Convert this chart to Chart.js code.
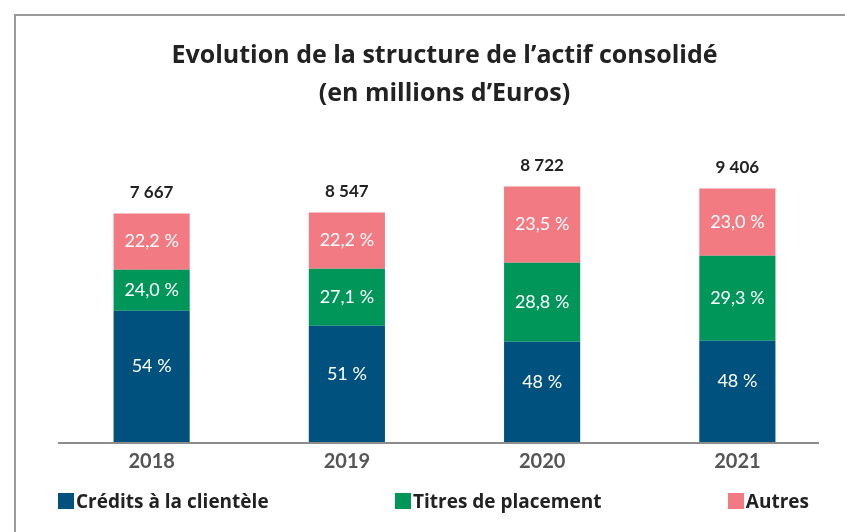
<!DOCTYPE html>
<html>
<head>
<meta charset="utf-8">
<script src="https://cdn.jsdelivr.net/npm/chart.js@4"></script>
<style>
  html, body { margin: 0; padding: 0; background: #fff; }
  #wrap { position: relative; width: 845px; height: 532px; overflow: hidden; }
  #frame { position: absolute; left: 14px; top: 14px; width: 900px; height: 600px;
           border-top: 2px solid #9a9a9a; border-left: 2px solid #9a9a9a; }
  #legend { position: absolute; left: 58px; top: 488px; width: 751px;
            display: flex; justify-content: space-between;
            font-family: 'Open Sans', sans-serif; font-weight: bold; font-size: 19px; color: #222; }
  #legend span.item { display: flex; align-items: center; }
  #legend span.box { display: inline-block; width: 16px; height: 16px; margin-right: 2px; }
</style>
</head>
<body>
<div id="wrap">
  <div id="frame"></div>
  <canvas id="myChart" width="845" height="532"></canvas>
  <div id="legend"></div>
</div>
<script>
const years = ['2018', '2019', '2020', '2021'];
const totals = ['7 667', '8 547', '8 722', '9 406'];

// bar segment sizes as drawn in the picture
const credits = [131, 116, 100, 101];
const titres = [41, 57, 79, 85];
const autres = [56, 56, 76, 67];

const creditsPct = ['54 %', '51 %', '48 %', '48 %'];
const titresPct = ['24,0 %', '27,1 %', '28,8 %', '29,3 %'];
const autresPct = ['22,2 %', '22,2 %', '23,5 %', '23,0 %'];

const seriesNames = ['Crédits à la clientèle', 'Titres de placement', 'Autres'];
const colors = ['#01517f', '#00965a', '#f27a83'];

const labelPlugin = {
    id: 'segLabels',
    afterDatasetsDraw(chart) {
        const ctx = chart.ctx;
        const pcts = [creditsPct, titresPct, autresPct];
        ctx.save();
        ctx.textAlign = 'center';
        ctx.textBaseline = 'middle';
        ctx.fillStyle = '#fff';
        ctx.font = '18px Lato';
        chart.data.datasets.forEach((ds, i) => {
            const shift = i === 0 ? -10 : 0; // blue labels sit a bit high
            chart.getDatasetMeta(i).data.forEach((bar, j) => {
                ctx.fillText(pcts[i][j], bar.x, (bar.y + bar.base) / 2 + shift);
            });
        });
        // totals above
        const top = chart.getDatasetMeta(2).data;
        ctx.fillStyle = '#222';
        ctx.font = 'bold 17px Lato';
        top.forEach((bar, j) => {
            ctx.fillText(totals[j], bar.x, bar.y - 21);
        });
        // base line
        const a = chart.chartArea;
        ctx.strokeStyle = '#8c8c8c';
        ctx.lineWidth = 2;
        ctx.beginPath();
        ctx.moveTo(a.left + 4, a.bottom + 1);
        ctx.lineTo(a.right - 16, a.bottom + 1);
        ctx.stroke();
        ctx.restore();
    }
};

const config = {
    type: 'bar',
    data: {
        labels: years,
        datasets: [
            { label: seriesNames[0], data: credits, backgroundColor: colors[0] },
            { label: seriesNames[1], data: titres, backgroundColor: colors[1] },
            { label: seriesNames[2], data: autres, backgroundColor: colors[2] }
        ]
    },
    options: {
        responsive: false,
        animation: false,
        devicePixelRatio: 1,
        layout: { padding: { left: 54, right: 10, top: 0, bottom: 50 } },
        datasets: { bar: { barPercentage: 0.39, categoryPercentage: 1 } },
        plugins: {
            legend: { display: false },
            tooltip: { enabled: false },
            title: {
                display: true,
                text: ['Evolution de la structure de l’actif consolidé', '(en millions d’Euros)'],
                color: '#222',
                font: { family: 'Open Sans', size: 25, weight: 'bold', lineHeight: 1.55 },
                padding: { top: 36, bottom: 28 }
            }
        },
        scales: {
            x: {
                stacked: true,
                grid: { display: false, drawTicks: false },
                border: { display: false },
                ticks: { color: '#555', padding: 8, font: { family: 'Lato', size: 20, weight: 'bold' } }
            },
            y: {
                stacked: true,
                display: false,
                min: 0,
                max: 300
            }
        }
    },
    plugins: [labelPlugin]
};

new Chart(document.getElementById('myChart'), config);

// legend from datasets
const legend = document.getElementById('legend');
config.data.datasets.forEach(ds => {
    const item = document.createElement('span');
    item.className = 'item';
    const box = document.createElement('span');
    box.className = 'box';
    box.style.background = ds.backgroundColor;
    item.appendChild(box);
    item.appendChild(document.createTextNode(ds.label));
    legend.appendChild(item);
});
</script>
</body>
</html>
